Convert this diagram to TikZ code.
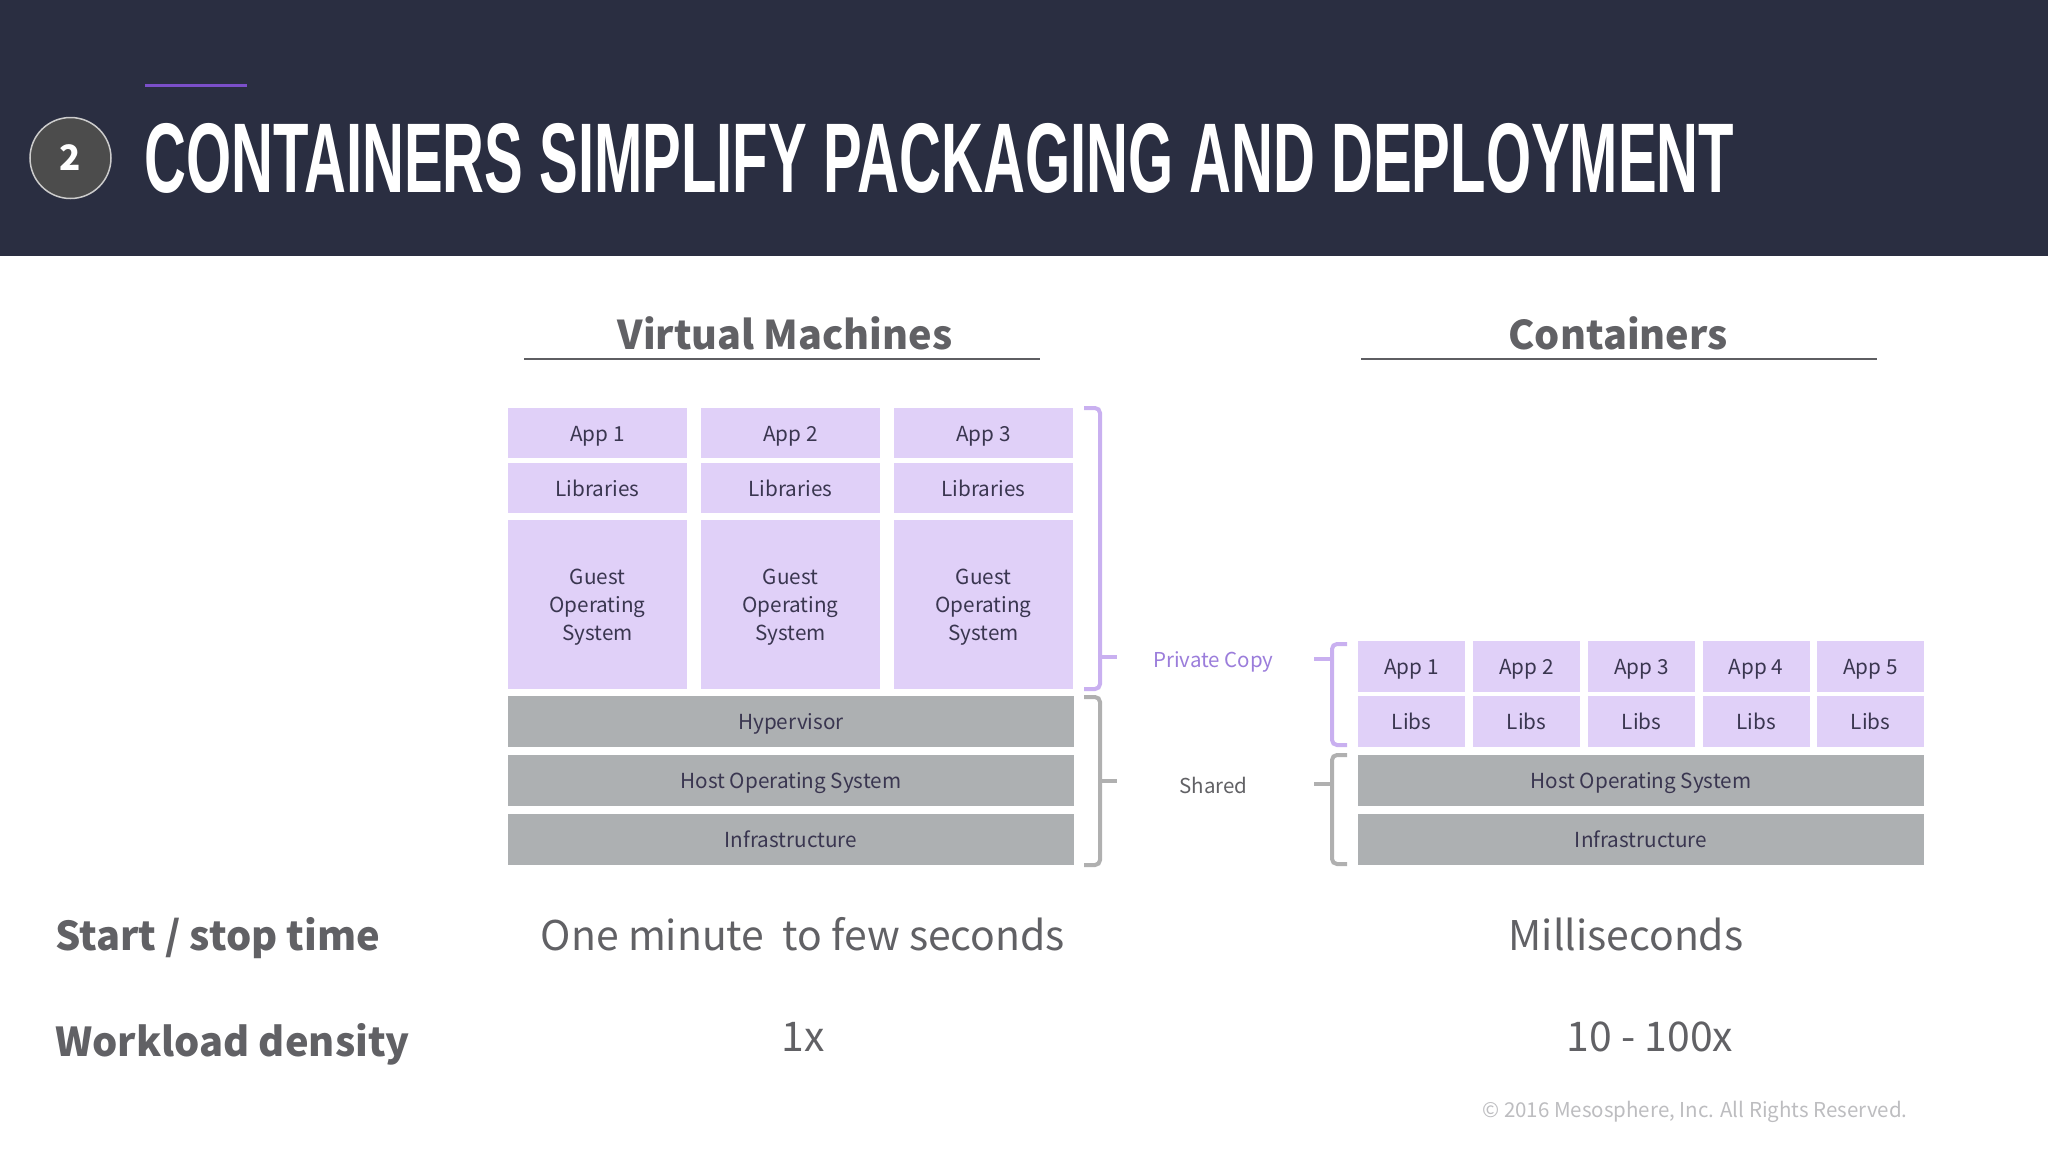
\documentclass[tikz,border=0pt]{standalone}
\usepackage{fontspec}
\setmainfont{Noto Sans CJK SC}
\newfontfamily\titlefont[FakeStretch=0.586]{Liberation Sans Bold}
\usepackage{tikz}

\definecolor{headbg}{HTML}{2A2E41}
\definecolor{accent}{HTML}{7B4FC9}
\definecolor{lilac}{HTML}{E0D0F8}
\definecolor{lilacline}{HTML}{C9B0F0}
\definecolor{lilactext}{HTML}{9B7DDB}
\definecolor{slate}{HTML}{ADB0B2}
\definecolor{slateline}{HTML}{B0B0B0}
\definecolor{boxtext}{HTML}{3A3650}
\definecolor{bodytext}{HTML}{616165}
\definecolor{rule}{HTML}{5E5E62}
\definecolor{faint}{HTML}{BDBDC0}

\tikzset{
  box/.style={inner sep=0pt,text=boxtext,align=center,text depth=5pt,font=\fontsize{20.7}{28}\selectfont},
  lilacbox/.style={box,fill=lilac},
  slatebox/.style={box,fill=slate,text height=21pt,minimum width=566pt,minimum height=51pt},
  vmcell/.style={lilacbox,text height=21pt,minimum width=179pt,minimum height=50pt},
  guestcell/.style={lilacbox,text height=76pt,minimum width=179pt,minimum height=169pt},
  ctcell/.style={lilacbox,text height=21pt,minimum width=107pt,minimum height=51pt},
  heading/.style={inner sep=0pt,anchor=base,text=bodytext,font=\fontsize{39.6}{46}\selectfont\bfseries},
  rowname/.style={inner sep=0pt,anchor=base west,text=bodytext,font=\fontsize{39.8}{46}\selectfont\bfseries},
  rowvalue/.style={inner sep=0pt,anchor=base,text=bodytext,font=\fontsize{40.9}{46}\selectfont},
  sidelabel/.style={inner sep=0pt,anchor=base,font=\fontsize{20.5}{27}\selectfont},
  bracelilac/.style={draw=lilacline,line width=4pt,rounded corners=5pt},
  braceslate/.style={draw=slateline,line width=4pt,rounded corners=5pt},
}

\begin{document}
\begin{tikzpicture}[x=1pt,y=-1pt]
\useasboundingbox (0,0) rectangle (2048,1152);
\fill[white] (0,0) rectangle (2048,1152);

% header
\fill[headbg] (0,0) rectangle (2048,256);
\fill[accent] (145,84) rectangle (247,87);
\node[circle,draw=white!80!black,line width=1.5pt,fill=black!70,minimum size=81pt,inner sep=0pt,text=white,font=\fontsize{35}{40}\selectfont\bfseries] (badge) at (70.5,158) {2};
\node[anchor=base west,inner sep=0pt,text=white,font=\fontsize{99}{100}\titlefont] (title) at (144,192) {CONTAINERS SIMPLIFY PACKAGING AND DEPLOYMENT};

% column headings
\node[heading] (vmhead) at (785,349) {Virtual Machines};
\node[heading] (cthead) at (1618,349) {Containers};
\fill[rule] (524,358) rectangle (1040,360);
\fill[rule] (1361,358) rectangle (1877,360);

% virtual machines
\node[vmcell] (vmapp1) at (597.5,433) {App 1};
\node[vmcell] (vmapp2) at (790.5,433) {App 2};
\node[vmcell] (vmapp3) at (983.5,433) {App 3};
\node[vmcell] (vmlib1) at (597.5,488) {Libraries};
\node[vmcell] (vmlib2) at (790.5,488) {Libraries};
\node[vmcell] (vmlib3) at (983.5,488) {Libraries};
\node[guestcell] (guest1) at (597.5,604.5) {Guest\\Operating\\System};
\node[guestcell] (guest2) at (790.5,604.5) {Guest\\Operating\\System};
\node[guestcell] (guest3) at (983.5,604.5) {Guest\\Operating\\System};
\node[slatebox] (hyper) at (791,721.5) {Hypervisor};
\node[slatebox] (vmhost) at (791,780.5) {Host Operating System};
\node[slatebox] (vminfra) at (791,839.5) {Infrastructure};

% containers
\node[ctcell] (ctapp1) at (1411.5,666.5) {App 1};
\node[ctcell] (ctapp2) at (1526.5,666.5) {App 2};
\node[ctcell] (ctapp3) at (1641.5,666.5) {App 3};
\node[ctcell] (ctapp4) at (1756,666.5) {App 4};
\node[ctcell] (ctapp5) at (1870.5,666.5) {App 5};
\node[ctcell] (ctlib1) at (1411.5,721.5) {Libs};
\node[ctcell] (ctlib2) at (1526.5,721.5) {Libs};
\node[ctcell] (ctlib3) at (1641.5,721.5) {Libs};
\node[ctcell] (ctlib4) at (1756,721.5) {Libs};
\node[ctcell] (ctlib5) at (1870.5,721.5) {Libs};
\node[slatebox] (cthost) at (1641,780.5) {Host Operating System};
\node[slatebox] (ctinfra) at (1641,839.5) {Infrastructure};

% brackets
\draw[bracelilac] (1084,408) -- (1100,408) -- (1100,689) -- (1084,689);
\draw[bracelilac] (1100,657) -- (1117,657);
\draw[braceslate] (1084,697) -- (1100,697) -- (1100,865) -- (1084,865);
\draw[braceslate] (1100,781) -- (1117,781);
\draw[bracelilac] (1347,644) -- (1332,644) -- (1332,745) -- (1347,745);
\draw[bracelilac] (1332,659) -- (1314,659);
\draw[braceslate] (1347,755) -- (1332,755) -- (1332,864) -- (1347,864);
\draw[braceslate] (1332,784) -- (1314,784);

\node[sidelabel,text=lilactext] (private) at (1213.5,667) {Private Copy};
\node[sidelabel,text=bodytext] (shared) at (1213.5,793) {Shared};

% comparison rows
\node[rowname] (startname) at (55,950) {Start / stop time};
\node[rowvalue] (startvm) at (803,950) {One minute\ \ to few seconds};
\node[rowvalue] (startct) at (1626,950) {Milliseconds};
\node[rowname] (loadname) at (55,1056) {Workload density};
\node[rowvalue] (loadvm) at (803,1051) {1x};
\node[rowvalue] (loadct) at (1650,1051) {10 - 100x};

\node[sidelabel,text=faint] (copy) at (1695,1117) {© 2016 Mesosphere, Inc. All Rights Reserved.};
\end{tikzpicture}
\end{document}
